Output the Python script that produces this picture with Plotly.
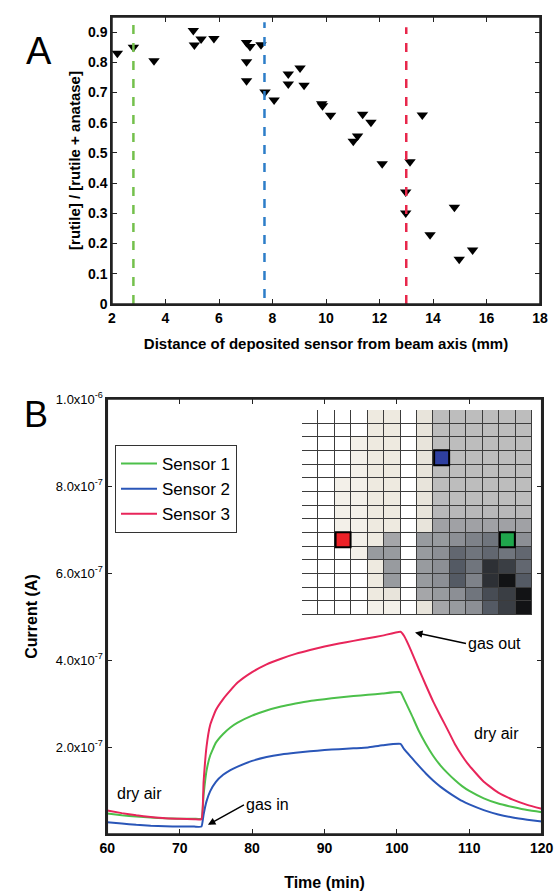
import plotly.graph_objects as go

W, H = 557, 892

# ---------------- Panel A data ----------------
distance_mm = [2.2, 2.8, 3.57, 5.04, 5.08, 5.33, 5.81, 7.03, 7.16, 7.03, 7.03, 7.57, 7.72, 8.06,
               8.59, 8.59, 9.03, 9.18, 9.84, 9.87, 10.17, 11.02, 11.18, 11.37, 11.68, 12.1,
               13.14, 13.6, 12.98, 12.98, 14.8, 13.89, 14.98, 15.48]
rutile_fraction = [0.83, 0.85, 0.805, 0.905, 0.857, 0.877, 0.879, 0.866, 0.852, 0.802, 0.739, 0.858, 0.702, 0.675,
                   0.761, 0.728, 0.781, 0.724, 0.663, 0.656, 0.625, 0.539, 0.556, 0.628, 0.602, 0.464,
                   0.471, 0.626, 0.371, 0.301, 0.32, 0.229, 0.148, 0.179]
ref_line_x = [2.8, 7.7, 13.0]
ref_line_ybot = [0.0, 0.02, 0.0]
ref_line_ytop = [0.945, 0.933, 0.916]
ref_line_colors = ["#74c04c", "#2d7dc8", "#e8274b"]
a_xticks = [2, 4, 6, 8, 10, 12, 14, 16, 18]
a_yticks = [0, 0.1, 0.2, 0.3, 0.4, 0.5, 0.6, 0.7, 0.8, 0.9]
a_yticklabels = ["0", "0.1", "0.2", "0.3", "0.4", "0.5", "0.6", "0.7", "0.8", "0.9"]

# ---------------- Panel B data (current in units of 1e-7 A) ----------------
time_min = [60, 62, 64, 66, 68, 70, 72, 73.0, 73.3, 73.7, 74.2, 75, 76, 77, 78, 80, 82, 84, 86, 88,
            90, 92, 94, 96, 98, 100.5, 101, 102, 103, 104, 105, 106, 107, 108, 109, 110, 112, 114,
            116, 118, 120]
sensor1 = [0.47, 0.43, 0.40, 0.38, 0.36, 0.35, 0.35, 0.35, 0.9, 1.45, 1.8, 2.1, 2.3, 2.45, 2.56, 2.72,
           2.84, 2.93, 3.0, 3.06, 3.1, 3.14, 3.17, 3.2, 3.23, 3.26, 3.1, 2.75, 2.38, 2.07, 1.8, 1.58,
           1.4, 1.24, 1.1, 0.99, 0.82, 0.7, 0.62, 0.55, 0.5]
sensor2 = [0.27, 0.24, 0.21, 0.19, 0.18, 0.17, 0.17, 0.17, 0.45, 0.75, 0.98, 1.2, 1.36, 1.47, 1.55, 1.68,
           1.77, 1.83, 1.87, 1.9, 1.93, 1.95, 1.97, 1.99, 2.04, 2.07, 1.95, 1.76, 1.57, 1.39, 1.23, 1.09,
           0.97, 0.86, 0.76, 0.68, 0.55, 0.45, 0.38, 0.33, 0.29]
sensor3 = [0.54, 0.48, 0.43, 0.39, 0.36, 0.35, 0.34, 0.34, 1.2, 2.0, 2.5, 2.85, 3.1, 3.3, 3.48, 3.72,
           3.9, 4.03, 4.14, 4.23, 4.31, 4.38, 4.44, 4.5, 4.56, 4.65, 4.55, 4.2, 3.8, 3.42, 3.05, 2.72,
           2.4, 2.07, 1.8, 1.57, 1.2, 0.95, 0.79, 0.67, 0.58]
sensor_names = ["Sensor 1", "Sensor 2", "Sensor 3"]
sensor_colors = ["#4cc04a", "#2a56b8", "#e8255a"]
b_xticks = [60, 70, 80, 90, 100, 110, 120]
b_yticks = [2, 4, 6, 8, 10]
b_yticklabels = ["2.0x10<sup>-7</sup>", "4.0x10<sup>-7</sup>", "6.0x10<sup>-7</sup>",
                 "8.0x10<sup>-7</sup>", "1.0x10<sup>-6</sup>"]

# ---------------- Inset map (darkness 0..1, rows top->bottom) ----------------
map_values = [
    [0, 0, 0, 0, 0.07, 0.07, 0, 0.1, 0.3, 0.3, 0.3, 0.3, 0.3, 0.3],
    [0, 0, 0, 0, 0.07, 0.07, 0, 0.1, 0.3, 0.3, 0.3, 0.3, 0.3, 0.3],
    [0, 0, 0, 0.05, 0.07, 0.07, 0, 0.1, 0.3, 0.3, 0.3, 0.3, 0.3, 0.3],
    [0, 0, 0, 0.05, 0.07, 0.07, 0, 0.1, 0.3, 0.3, 0.3, 0.3, 0.3, 0.3],
    [0, 0, 0, 0.05, 0.07, 0.07, 0, 0.1, 0.3, 0.3, 0.3, 0.3, 0.3, 0.3],
    [0, 0, 0.05, 0.05, 0.07, 0.07, 0, 0.1, 0.3, 0.3, 0.3, 0.3, 0.3, 0.3],
    [0, 0, 0.05, 0.05, 0.07, 0.07, 0, 0.1, 0.3, 0.3, 0.3, 0.3, 0.3, 0.3],
    [0, 0, 0.05, 0.05, 0.07, 0.07, 0, 0.1, 0.32, 0.32, 0.32, 0.32, 0.32, 0.32],
    [0, 0, 0.05, 0.05, 0.07, 0.07, 0, 0.1, 0.42, 0.42, 0.42, 0.42, 0.42, 0.42],
    [0, 0, 0.05, 0.05, 0.07, 0.4, 0, 0.45, 0.45, 0.5, 0.55, 0.6, 0.5, 0.5],
    [0, 0, 0, 0.05, 0.45, 0.45, 0, 0.45, 0.5, 0.65, 0.6, 0.65, 0.6, 0.65],
    [0, 0, 0, 0, 0.07, 0.45, 0, 0.45, 0.5, 0.7, 0.6, 0.85, 0.8, 0.65],
    [0, 0, 0, 0, 0.07, 0.45, 0, 0.45, 0.5, 0.7, 0.55, 0.85, 0.95, 0.7],
    [0, 0, 0, 0, 0.07, 0.1, 0, 0.4, 0.45, 0.5, 0.6, 0.75, 0.8, 0.95],
    [0, 0, 0, 0, 0.05, 0.05, 0, 0.1, 0.4, 0.45, 0.5, 0.7, 0.8, 0.95],
]
sensor_cells_col = [12, 8, 2]
sensor_cells_row = [9, 3, 9]
sensor_cell_colors = ["#1fa64c", "#2e3fa0", "#ec2127"]


def px_x(p):
    return p / W


def px_y(p):
    return 1 - p / H


SANS = "Liberation Sans, Arial, sans-serif"
NARROW = "Liberation Sans Narrow, Liberation Sans, Arial, sans-serif"

fig = go.Figure()

# Panel A traces
fig.add_trace(go.Scatter(x=distance_mm, y=rutile_fraction, mode="markers",
                         marker=dict(symbol="triangle-down", size=10, color="black"),
                         xaxis="x", yaxis="y", showlegend=False))
for xv, yb, yt, c in zip(ref_line_x, ref_line_ybot, ref_line_ytop, ref_line_colors):
    fig.add_trace(go.Scatter(x=[xv, xv], y=[yb, yt], mode="lines",
                             line=dict(color=c, width=2.5, dash="dash"),
                             xaxis="x", yaxis="y", showlegend=False))

# Panel B traces
for name, vals, c in zip(sensor_names, [sensor1, sensor2, sensor3], sensor_colors):
    fig.add_trace(go.Scatter(x=time_min, y=vals, mode="lines", name=name,
                             line=dict(color=c, width=2, shape="spline", smoothing=0.4),
                             xaxis="x2", yaxis="y2"))

# Inset heatmap
fig.add_trace(go.Heatmap(z=map_values, zmin=0, zmax=1, xgap=1, ygap=1,
                         colorscale=[[0, "#ffffff"], [0.07, "#eeeae0"], [0.3, "#bdbdbd"],
                                     [0.5, "#8c8f95"], [0.7, "#545a64"], [1.0, "#050505"]],
                         showscale=False, xaxis="x3", yaxis="y3", hoverinfo="skip"))
fig.add_trace(go.Scatter(x=sensor_cells_col, y=sensor_cells_row, mode="markers",
                         marker=dict(symbol="square", size=15, color=sensor_cell_colors,
                                     line=dict(color="black", width=2)),
                         xaxis="x3", yaxis="y3", showlegend=False))

axis_common = dict(showline=True, linecolor="#222", linewidth=1.5, mirror="ticks",
                   ticks="inside", ticklen=5, tickcolor="#222", tickwidth=1.2,
                   showgrid=False, zeroline=False, automargin=False)

frame = dict(color="#222", width=1.5)

fig.update_layout(
    template="none",
    width=W, height=H, margin=dict(l=0, r=0, t=0, b=0, autoexpand=False),
    paper_bgcolor="white", plot_bgcolor="rgba(0,0,0,0)",
    font=dict(family=SANS, color="black"),
    xaxis=dict(domain=[px_x(112), px_x(540)], range=[2, 18], anchor="y", tickvals=a_xticks,
               ticktext=["<b>%d</b>" % t for t in a_xticks],
               tickfont=dict(family=SANS, size=14, color="black"),
               title=dict(text="<b>Distance of deposited sensor from beam axis (mm)</b>",
                          font=dict(family=SANS, size=15, color="black"), standoff=14),
               **axis_common),
    yaxis=dict(domain=[px_y(304), px_y(17)], range=[0, 0.95], anchor="x", tickvals=a_yticks,
               ticktext=["<b>%s</b>" % t for t in a_yticklabels],
               tickfont=dict(family=SANS, size=14, color="black"),
               title=dict(text="<b>[rutile] / [rutile + anatase]</b>",
                          font=dict(family=SANS, size=15, color="black"), standoff=4),
               **axis_common),
    xaxis2=dict(domain=[px_x(107.3), px_x(541.7)], range=[60, 120], anchor="y2", tickvals=b_xticks,
                ticktext=["<b>%d</b>" % t for t in b_xticks],
                tickfont=dict(family=NARROW, size=14, color="black"),
                title=dict(text="<b>Time (min)</b>",
                           font=dict(family=NARROW, size=16, color="black"), standoff=22),
                **axis_common),
    yaxis2=dict(domain=[px_y(834), px_y(399)], range=[0, 10], anchor="x2", tickvals=b_yticks,
                ticktext=b_yticklabels,
                tickfont=dict(family=NARROW, size=13, color="black"),
                title=dict(text="<b>Current (A)</b>",
                           font=dict(family=SANS, size=16, color="black"), standoff=14),
                **axis_common),
    xaxis3=dict(domain=[px_x(302), px_x(532)], range=[-0.5, 13.5], anchor="y3",
                visible=False, showgrid=False, zeroline=False),
    yaxis3=dict(domain=[px_y(615), px_y(410)], range=[14.5, -0.5], anchor="x3",
                visible=False, showgrid=False, zeroline=False),
    legend=dict(x=px_x(115), y=px_y(445), xanchor="left", yanchor="top",
                bordercolor="#333", borderwidth=1, bgcolor="white",
                font=dict(family=NARROW, size=17, color="black"),
                tracegroupgap=0, itemwidth=36),
    shapes=[
        dict(type="rect", xref="x3", yref="y3", x0=-0.5, x1=13.5, y0=-0.5, y1=14.5,
             fillcolor="#3c3c3c", line=dict(color="#3c3c3c", width=1), layer="below"),
        dict(type="rect", xref="x domain", yref="y domain", x0=0, x1=1, y0=0, y1=1,
             line=frame, layer="above"),
        dict(type="rect", xref="x2 domain", yref="y2 domain", x0=0, x1=1, y0=0, y1=1,
             line=frame, layer="above"),
    ],
    annotations=[
        dict(text="A", x=px_x(24), y=px_y(28), xref="paper", yref="paper", showarrow=False,
             font=dict(family=SANS, size=38, color="black")),
        dict(text="B", x=px_x(22), y=px_y(415), xref="paper", yref="paper", showarrow=False,
             font=dict(family=SANS, size=36, color="black")),
        dict(text="dry air", x=64.5, y=0.94, xref="x2", yref="y2", showarrow=False,
             font=dict(family=NARROW, size=16, color="black")),
        dict(text="dry air", x=113.8, y=2.32, xref="x2", yref="y2", showarrow=False,
             font=dict(family=NARROW, size=16, color="black")),
        dict(text="gas in", x=73.9, y=0.21, xref="x2", yref="y2", xanchor="left", showarrow=True,
             ax=36, ay=-20, arrowhead=2, arrowsize=1, arrowwidth=1.5, arrowcolor="black",
             font=dict(family=NARROW, size=16, color="black")),
        dict(text="gas out", x=102.5, y=4.63, xref="x2", yref="y2", xanchor="left", showarrow=True,
             ax=51, ay=11, arrowhead=2, arrowsize=1, arrowwidth=1.5, arrowcolor="black",
             font=dict(family=NARROW, size=16, color="black")),
    ],
)

fig.write_html("out.html")
